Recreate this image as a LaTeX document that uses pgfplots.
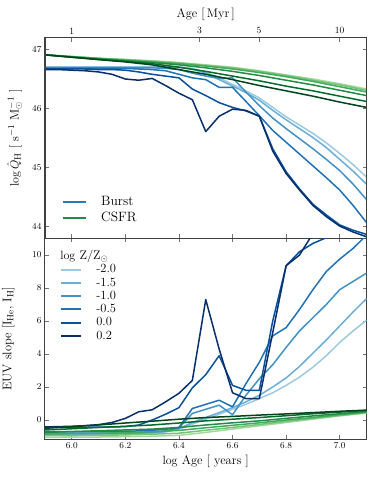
\documentclass[border=0pt]{standalone}
\usepackage{pgfplots}
\usepackage{pgfplotstable}
\pgfplotsset{compat=1.18}

\definecolor{b20}{HTML}{9ECAE1}
\definecolor{b15}{HTML}{6BAED6}
\definecolor{b10}{HTML}{4292C6}
\definecolor{b05}{HTML}{2171B5}
\definecolor{b00}{HTML}{08519C}
\definecolor{b02}{HTML}{08306B}
\definecolor{g20}{HTML}{A1D99B}
\definecolor{g15}{HTML}{74C476}
\definecolor{g10}{HTML}{41AB5D}
\definecolor{g05}{HTML}{238B45}
\definecolor{g00}{HTML}{006D2C}
\definecolor{g02}{HTML}{00441B}
\definecolor{burstc}{HTML}{2878C0}
\definecolor{csfrc}{HTML}{238B45}

% log Q_H, burst
\pgfplotstableread{
age  m20   m15   m10   m05   p00   p02
5.90 46.70 46.70 46.69 46.68 46.67 46.66
5.95 46.70 46.70 46.69 46.68 46.67 46.66
6.00 46.70 46.70 46.69 46.68 46.67 46.65
6.05 46.70 46.70 46.69 46.68 46.67 46.64
6.10 46.70 46.70 46.69 46.68 46.66 46.62
6.15 46.70 46.70 46.69 46.68 46.66 46.58
6.20 46.70 46.70 46.69 46.68 46.65 46.50
6.25 46.70 46.70 46.69 46.67 46.62 46.48
6.30 46.70 46.70 46.69 46.66 46.58 46.51
6.35 46.70 46.70 46.68 46.64 46.55 46.39
6.40 46.70 46.70 46.66 46.58 46.52 46.26
6.45 46.68 46.67 46.60 46.52 46.33 46.15
6.50 46.62 46.60 46.55 46.49 46.22 45.61
6.55 46.52 46.49 46.51 46.36 46.10 45.87
6.60 46.41 46.38 46.52 46.36 46.02 45.99
6.65 46.30 46.27 46.28 46.12 45.96 45.97
6.70 46.18 46.14 46.05 45.88 45.87 45.87
6.75 46.02 45.97 45.84 45.63 45.32 45.28
6.80 45.86 45.81 45.66 45.43 44.93 44.90
6.85 45.72 45.66 45.49 45.23 44.64 44.62
6.90 45.58 45.51 45.32 45.03 44.38 44.36
6.95 45.42 45.34 45.14 44.83 44.20 44.17
7.00 45.24 45.14 44.95 44.62 44.03 44.01
7.05 45.05 44.94 44.72 44.36 43.94 43.91
7.10 44.84 44.72 44.46 44.07 43.87 43.83
}\qburst

% log Q_H, constant SFR
\pgfplotstableread{
age m20   m15   m10   m05   p00   p02
5.9 46.91 46.91 46.91 46.91 46.91 46.91
6.0 46.88 46.88 46.88 46.87 46.87 46.87
6.1 46.85 46.85 46.85 46.84 46.83 46.83
6.2 46.83 46.83 46.82 46.81 46.80 46.79
6.3 46.81 46.80 46.79 46.78 46.76 46.74
6.4 46.78 46.77 46.76 46.74 46.70 46.66
6.5 46.74 46.73 46.72 46.69 46.63 46.58
6.6 46.70 46.69 46.67 46.63 46.55 46.49
6.7 46.64 46.63 46.61 46.56 46.47 46.39
6.8 46.57 46.56 46.54 46.48 46.38 46.30
6.9 46.50 46.48 46.46 46.40 46.30 46.21
7.0 46.42 46.40 46.37 46.31 46.21 46.11
7.1 46.33 46.31 46.28 46.22 46.12 46.02
}\qcsfr

% EUV slope, burst
\pgfplotstableread{
age  m20   m15   m10   m05   p00   p02
5.90 -0.90 -0.85 -0.80 -0.70 -0.45 -0.42
5.95 -0.90 -0.85 -0.80 -0.70 -0.45 -0.40
6.00 -0.90 -0.85 -0.80 -0.70 -0.45 -0.38
6.05 -0.90 -0.85 -0.80 -0.70 -0.44 -0.34
6.10 -0.89 -0.85 -0.80 -0.70 -0.43 -0.28
6.15 -0.88 -0.84 -0.79 -0.69 -0.42 -0.15
6.20 -0.87 -0.83 -0.78 -0.68 -0.40 0.10
6.25 -0.85 -0.81 -0.76 -0.66 -0.30 0.50
6.30 -0.80 -0.77 -0.72 -0.62 0.00 0.62
6.35 -0.72 -0.70 -0.66 -0.56 0.35 1.10
6.40 -0.55 -0.52 -0.48 -0.45 0.75 1.62
6.45 -0.25 -0.15 0.40 0.70 1.95 2.40
6.50 0.05 0.15 0.65 0.95 2.75 7.30
6.55 0.35 0.45 0.90 1.20 3.90 4.30
6.60 0.65 0.75 0.32 0.80 2.10 1.65
6.65 0.95 1.10 1.50 2.20 1.80 1.30
6.70 1.30 1.50 2.50 3.50 1.80 1.30
6.75 1.65 2.00 3.35 5.10 6.00 5.30
6.80 2.10 2.55 4.40 5.60 9.35 9.35
6.85 2.60 3.25 5.40 6.70 10.20 10.00
6.90 3.20 4.05 6.20 7.90 10.70 11.30
6.95 3.90 4.85 7.00 9.00 11.05 12.00
7.00 4.70 5.70 7.90 9.75 11.30 12.50
7.05 5.40 6.55 8.40 10.40 11.60 13.00
7.10 6.05 7.35 8.90 11.20 11.90 13.50
}\sburst

% EUV slope, constant SFR
\pgfplotstableread{
age m20   m15   m10   m05   p00   p02
5.9 -1.05 -0.95 -0.85 -0.75 -0.60 -0.50
6.0 -1.04 -0.94 -0.83 -0.70 -0.53 -0.40
6.1 -1.03 -0.93 -0.80 -0.65 -0.45 -0.30
6.2 -1.01 -0.90 -0.76 -0.60 -0.38 -0.18
6.3 -0.98 -0.86 -0.71 -0.55 -0.30 -0.07
6.4 -0.93 -0.80 -0.63 -0.45 -0.18 0.05
6.5 -0.75 -0.62 -0.47 -0.30 -0.05 0.15
6.6 -0.55 -0.45 -0.32 -0.17 0.05 0.22
6.7 -0.35 -0.27 -0.17 -0.05 0.15 0.30
6.8 -0.15 -0.08 0.00 0.10 0.26 0.37
6.9 0.05 0.10 0.15 0.25 0.38 0.45
7.0 0.25 0.28 0.32 0.38 0.48 0.53
7.1 0.42 0.45 0.48 0.52 0.58 0.60
}\scsfr

\pgfplotsset{
  panel/.style={
    width=321.5pt, scale only axis,
    xmin=5.9, xmax=7.1,
    axis line style={black!75, line width=1pt},
    tick style={black!55, line width=0.6pt},
    major tick length=4pt,
    tick label style={font=\fontsize{9.5}{11}\selectfont},
    label style={font=\fontsize{12.5}{14}\selectfont},
    every axis plot/.append style={line width=1.5pt, line join=round},
  },
  leg/.style={
    legend cell align=left,
    legend style={draw=none, fill=none, inner sep=0pt,
      font=\fontsize{#1}{#1}\selectfont,
      nodes={inner sep=0pt},
      /tikz/every odd column/.append style={column sep=14pt}},
  },
}

\begin{document}
\begin{tikzpicture}
% top panel
\begin{axis}[panel, leg=13.5, at={(0,0)}, anchor=south west, height=200.8pt,
  ymin=43.8, ymax=47.2, ytick={44,45,46,47},
  xtick={6.0,6.2,6.4,6.6,6.8,7.0}, xticklabels={}, xtick pos=lower,
  ylabel={$\log\hat{Q}_{\mathrm{H}}$ [ s$^{-1}$ M$_{\odot}^{-1}$ ]},
  ylabel style={at={(axis description cs:-0.06,0.5)}, anchor=south},
  legend image code/.code={\draw[#1] (0pt,0pt) -- (23pt,0pt);},
  legend style={at={(0.053,0.215)}, anchor=north west, nodes={text height=10pt, text depth=3pt}, row sep=2.6pt},
]
\addplot[b20, forget plot] table[x=age, y=m20] {\qburst};
\addplot[b15, forget plot] table[x=age, y=m15] {\qburst};
\addplot[b10, forget plot] table[x=age, y=m10] {\qburst};
\addplot[b05, forget plot] table[x=age, y=m05] {\qburst};
\addplot[b00, forget plot] table[x=age, y=p00] {\qburst};
\addplot[b02, forget plot] table[x=age, y=p02] {\qburst};
\addplot[g20, forget plot] table[x=age, y=m20] {\qcsfr};
\addplot[g15, forget plot] table[x=age, y=m15] {\qcsfr};
\addplot[g10, forget plot] table[x=age, y=m10] {\qcsfr};
\addplot[g05, forget plot] table[x=age, y=m05] {\qcsfr};
\addplot[g00, forget plot] table[x=age, y=p00] {\qcsfr};
\addplot[g02, forget plot] table[x=age, y=p02] {\qcsfr};
\addlegendimage{burstc, line width=2pt}
\addlegendentry{Burst}
\addlegendimage{csfrc, line width=2pt}
\addlegendentry{CSFR}
\end{axis}

% age in Myr along the top edge
\begin{axis}[panel, at={(0,0)}, anchor=south west, height=200.8pt,
  ymin=43.8, ymax=47.2, ytick=\empty,
  xtick={6,6.4771,6.6990,7}, xticklabels={1,3,5,10},
  xtick pos=upper, xticklabel pos=upper,
  xlabel={Age [\,Myr\,]},
]
\end{axis}

% bottom panel
\begin{axis}[panel, leg=12.5, at={(0,0)}, anchor=north west, height=200.5pt,
  ymin=-1.15, ymax=11, ytick={0,2,4,6,8,10},
  xtick={6.0,6.2,6.4,6.6,6.8,7.0},
  xticklabel style={/pgf/number format/.cd, fixed, fixed zerofill, precision=1},
  xlabel={$\log$ Age [ years ]},
  ylabel={EUV slope [I$_{\mathrm{He}}$, I$_{\mathrm{H}}$]},
  ylabel style={at={(axis description cs:-0.084,0.5)}, anchor=south},
  legend image code/.code={\draw[#1] (0pt,0pt) -- (20pt,0pt);},
  legend style={at={(0.047,0.875)}, anchor=north west, nodes={text height=9pt, text depth=2.5pt}, row sep=1.8pt},
]
\addplot[b20, forget plot] table[x=age, y=m20] {\sburst};
\addplot[b15, forget plot] table[x=age, y=m15] {\sburst};
\addplot[b10, forget plot] table[x=age, y=m10] {\sburst};
\addplot[b05, forget plot] table[x=age, y=m05] {\sburst};
\addplot[b00, forget plot] table[x=age, y=p00] {\sburst};
\addplot[b02, forget plot] table[x=age, y=p02] {\sburst};
\addplot[g20, forget plot] table[x=age, y=m20] {\scsfr};
\addplot[g15, forget plot] table[x=age, y=m15] {\scsfr};
\addplot[g10, forget plot] table[x=age, y=m10] {\scsfr};
\addplot[g05, forget plot] table[x=age, y=m05] {\scsfr};
\addplot[g00, forget plot] table[x=age, y=p00] {\scsfr};
\addplot[g02, forget plot] table[x=age, y=p02] {\scsfr};
\addlegendimage{b20, line width=2pt}
\addlegendentry{-2.0}
\addlegendimage{b15, line width=2pt}
\addlegendentry{-1.5}
\addlegendimage{b10, line width=2pt}
\addlegendentry{-1.0}
\addlegendimage{b05, line width=2pt}
\addlegendentry{-0.5}
\addlegendimage{b00, line width=2pt}
\addlegendentry{0.0}
\addlegendimage{b02, line width=2pt}
\addlegendentry{0.2}
\node[anchor=west, inner sep=0pt, font=\fontsize{12.5}{14}\selectfont]
  at (axis description cs:0.047,0.909) {$\log$ Z/Z$_{\odot}$};
\end{axis}

\pgfresetboundingbox
\path[use as bounding box] (-45pt,238.5pt) rectangle (329pt,-239.5pt);
\end{tikzpicture}
\end{document}
